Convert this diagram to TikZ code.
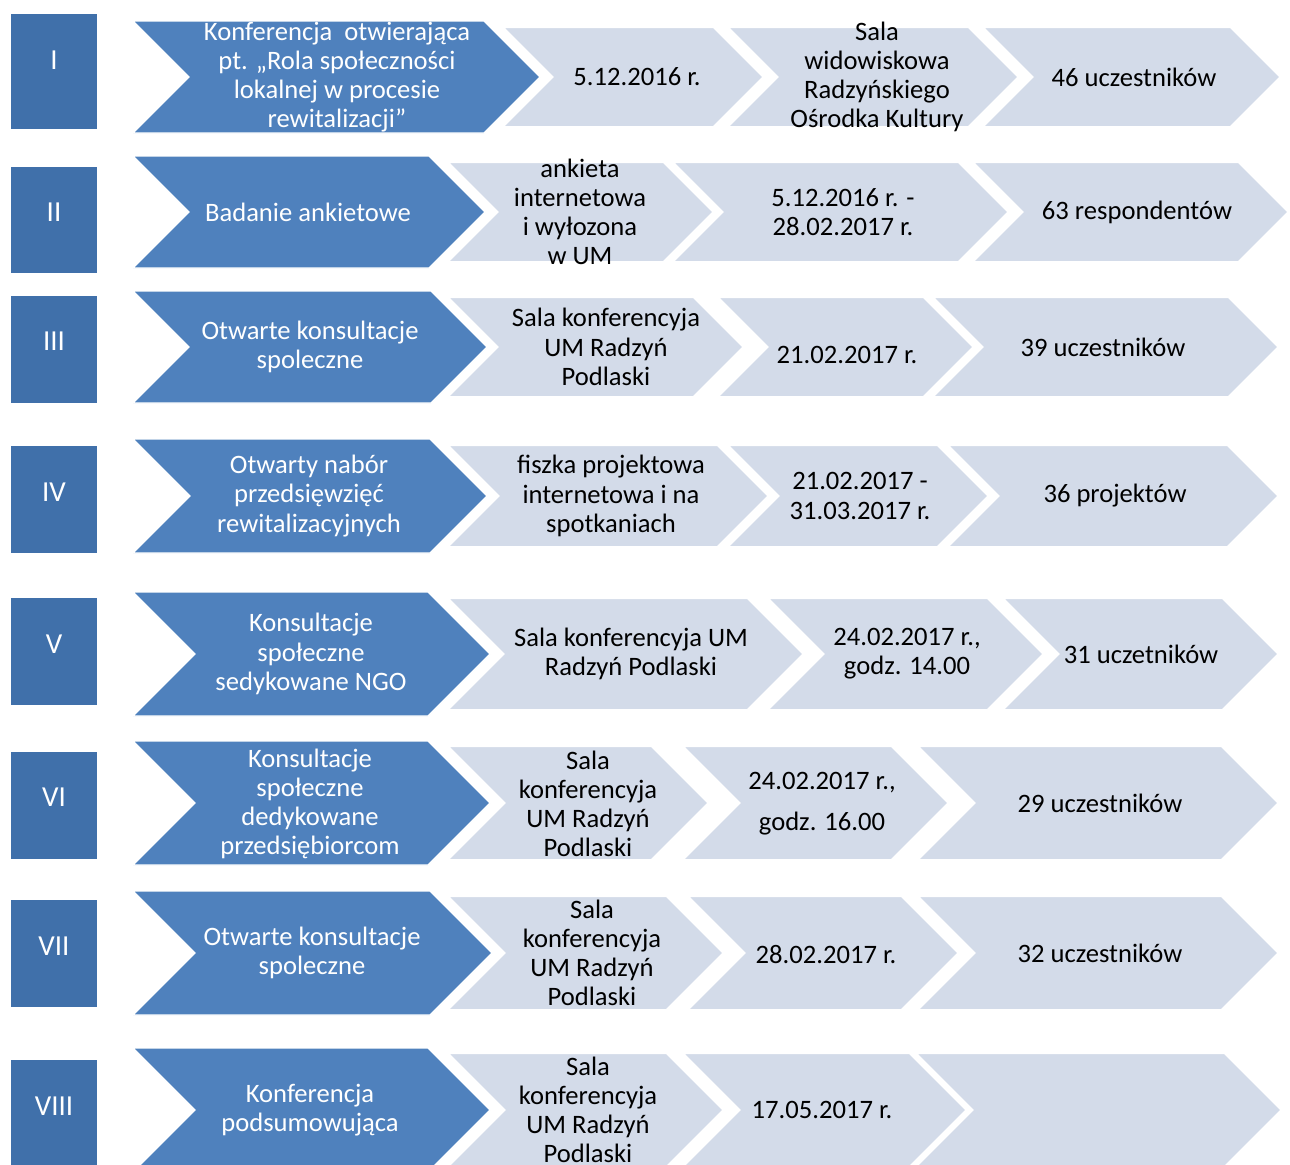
\documentclass[tikz,border=0pt]{standalone}
\usepackage{fontspec}
\setmainfont{Carlito}

\definecolor{numblue}{HTML}{4070AA}
\definecolor{darkblue}{HTML}{4F81BD}
\definecolor{paleblue}{HTML}{D3DBE9}

% chevron: style, left x, tip x, mid y, half height
\newcommand{\chev}[5]{%
  \filldraw[#1] (#2,#4-#5) -- (#3-#5,#4-#5) -- (#3,#4) -- (#3-#5,#4+#5)
    -- (#2,#4+#5) -- (#2+#5,#4) -- cycle;}

\begin{document}
\begin{tikzpicture}[x=0.5pt, y=-0.5pt, line join=miter,
    numbox/.style={fill=numblue},
    darkchev/.style={fill=darkblue, draw=white, line width=0.6pt},
    palechev/.style={fill=paleblue, draw=white, line width=2pt},
    numtxt/.style={text=white, font=\fontsize{14.5}{17}\selectfont, inner sep=0pt},
    darktxt/.style={text=white, align=center, font=\fontsize{13.3}{14.6}\selectfont, inner sep=0pt},
    paletxt/.style={text=black, align=center, font=\fontsize{13.3}{14.6}\selectfont, inner sep=0pt}]
    \clip (0,0) rectangle (1290,1164);

    % I
    \fill[numbox] (11,14) rectangle (97,129);
    \chev{palechev}{500}{765}{77}{51}
    \chev{palechev}{725}{1020}{77}{51}
    \chev{palechev}{980}{1282}{77}{51}
    \chev{darkchev}{133}{540}{77}{56}
    \node[numtxt] (n1) at (54,60) {I};
    \node[darktxt] (d1) at (337,77) {Konferencja\ \ otwierająca\\pt. „Rola społeczności\\lokalnej w procesie\\rewitalizacji”};
    \node[paletxt] (a1) at (637,77) {5.12.2016 r.};
    \node[paletxt] (b1) at (877,77) {Sala\\widowiskowa\\Radzyńskiego\\Ośrodka Kultury};
    \node[paletxt] (c1) at (1134,77) {46 uczestników};

    % II
    \fill[numbox] (11,167) rectangle (97,273);
    \chev{palechev}{445}{715}{212}{51}
    \chev{palechev}{670}{1010}{212}{51}
    \chev{palechev}{970}{1290}{212}{51}
    \chev{darkchev}{133}{485}{212}{56}
    \node[numtxt] (n2) at (54,212) {II};
    \node[darktxt] (d2) at (308,212) {Badanie ankietowe};
    \node[paletxt] (a2) at (580,212) {ankieta\\internetowa\\i wyłozona\\w UM};
    \node[paletxt] (b2) at (843,212) {5.12.2016 r. -\\28.02.2017 r.};
    \node[paletxt] (c2) at (1137,212) {63 respondentów};

    % III
    \fill[numbox] (11,296) rectangle (97,403);
    \chev{palechev}{445}{745}{347}{51}
    \chev{palechev}{715}{975}{347}{51}
    \chev{palechev}{930}{1280}{347}{51}
    \chev{darkchev}{133}{487}{347}{56}
    \node[numtxt] (n3) at (54,341) {III};
    \node[darktxt] (d3) at (310,347) {Otwarte konsultacje\\spoleczne};
    \node[paletxt] (a3) at (606,347) {Sala konferencyja\\UM Radzyń\\Podlaski};
    \node[paletxt] (b3) at (847,355) {21.02.2017 r.};
    \node[paletxt] (c3) at (1103,347) {39 uczestników};

    % IV
    \fill[numbox] (11,446) rectangle (97,553);
    \chev{palechev}{445}{770}{496}{52}
    \chev{palechev}{725}{990}{496}{52}
    \chev{palechev}{945}{1280}{496}{52}
    \chev{darkchev}{133}{487}{496}{57}
    \node[numtxt] (n4) at (54,492) {IV};
    \node[darktxt] (d4) at (309,496) {Otwarty nabór\\przedsięwzięć\\rewitalizacyjnych};
    \node[paletxt] (a4) at (611,496) {fiszka projektowa\\internetowa i na\\spotkaniach};
    \node[paletxt] (b4) at (860,496) {21.02.2017 -\\31.03.2017 r.};
    \node[paletxt] (c4) at (1115,496) {36 projektów};

    % V
    \fill[numbox] (11,598) rectangle (97,705);
    \chev{palechev}{445}{805}{654}{57}
    \chev{palechev}{765}{1045}{654}{57}
    \chev{palechev}{1000}{1280}{654}{57}
    \chev{darkchev}{133}{490}{654}{62}
    \node[numtxt] (n5) at (54,644) {V};
    \node[darktxt] (d5) at (311,654) {Konsultacje\\społeczne\\sedykowane NGO};
    \node[paletxt] (a5) at (631,654) {Sala konferencyja UM\\Radzyń Podlaski};
    \node[paletxt] (b5) at (907,654) {24.02.2017 r.,\\godz. 14.00};
    \node[paletxt] (c5) at (1141,654) {31 uczetników};

    % VI
    \fill[numbox] (11,752) rectangle (97,859);
    \chev{palechev}{445}{710}{803}{58}
    \chev{palechev}{680}{950}{803}{58}
    \chev{palechev}{915}{1280}{803}{58}
    \chev{darkchev}{133}{490}{803}{62}
    \node[numtxt] (n6) at (54,797) {VI};
    \node[darktxt] (d6) at (310,804) {Konsultacje\\społeczne\\dedykowane\\przedsiębiorcom};
    \node[paletxt] (a6) at (588,804) {Sala\\konferencyja\\UM Radzyń\\Podlaski};
    \node[paletxt] (b6) at (822,804) {24.02.2017 r.,\\[6pt]godz. 16.00};
    \node[paletxt] (c6) at (1100,803) {29 uczestników};

    % VII
    \fill[numbox] (11,900) rectangle (97,1007);
    \chev{palechev}{445}{725}{953}{58}
    \chev{palechev}{685}{960}{953}{58}
    \chev{palechev}{915}{1280}{953}{58}
    \chev{darkchev}{133}{492}{953}{62}
    \node[numtxt] (n7) at (54,946) {VII};
    \node[darktxt] (d7) at (312,953) {Otwarte konsultacje\\spoleczne};
    \node[paletxt] (a7) at (592,953) {Sala\\konferencyja\\UM Radzyń\\Podlaski};
    \node[paletxt] (b7) at (826,954) {28.02.2017 r.};
    \node[paletxt] (c7) at (1100,953) {32 uczestników};

    % VIII
    \fill[numbox] (11,1060) rectangle (97,1170);
    \chev{palechev}{445}{725}{1110}{58}
    \chev{palechev}{680}{968}{1110}{58}
    \chev{palechev}{913}{1283}{1110}{58}
    \chev{darkchev}{133}{490}{1110}{62}
    \node[numtxt] (n8) at (54,1106) {VIII};
    \node[darktxt] (d8) at (310,1110) {Konferencja\\podsumowująca};
    \node[paletxt] (a8) at (588,1110) {Sala\\konferencyja\\UM Radzyń\\Podlaski};
    \node[paletxt] (b8) at (822,1110) {17.05.2017 r.};
\end{tikzpicture}
\end{document}
